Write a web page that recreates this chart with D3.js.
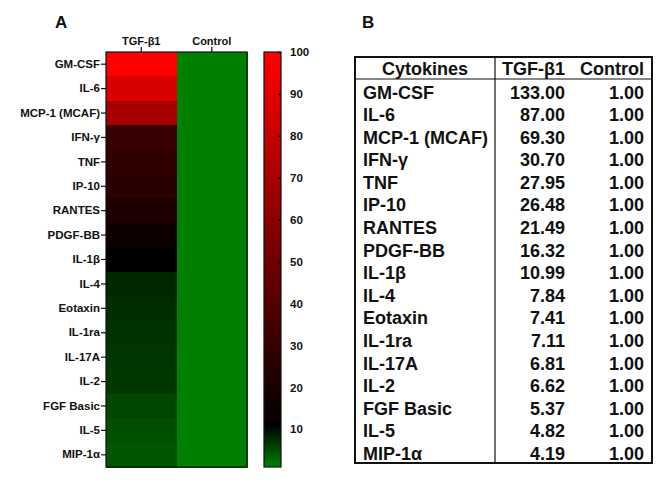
<!DOCTYPE html>
<html>
<head>
<meta charset="utf-8">
<script src="https://cdn.jsdelivr.net/npm/d3@7"></script>
<style>
  body { margin: 0; background: #fff; }
  text { font-family: "Liberation Sans", Arial, sans-serif; font-weight: bold; }
</style>
</head>
<body>
<svg id="fig" width="669" height="485"></svg>
<script>
// cytokine fold changes, TGF-b1 vs control
let cytokines = ["GM-CSF", "IL-6", "MCP-1 (MCAF)", "IFN-\u03b3", "TNF", "IP-10", "RANTES", "PDGF-BB",
    "IL-1\u03b2", "IL-4", "Eotaxin", "IL-1ra", "IL-17A", "IL-2", "FGF Basic", "IL-5", "MIP-1\u03b1"];
let tgfValues = [133.00, 87.00, 69.30, 30.70, 27.95, 26.48, 21.49, 16.32, 10.99, 7.84, 7.41, 7.11, 6.81, 6.62, 5.37, 4.82, 4.19];
let controlValues = [1, 1, 1, 1, 1, 1, 1, 1, 1, 1, 1, 1, 1, 1, 1, 1, 1];
let groups = ["TGF-\u03b21", "Control"];
let colorTicks = [10, 20, 30, 40, 50, 60, 70, 80, 90, 100];
let tableHeader = ["Cytokines", "TGF-\u03b21", "Control"];

let svg = d3.select("#fig");

// ---- panel A: heatmap ----
let heat = {left: 106, right: 247, top: 52, bottom: 467};

let xScale = d3.scaleBand().domain(groups).range([heat.left, heat.right]);
let yScale = d3.scaleBand().domain(cytokines).range([heat.top, heat.bottom]);

let colorScale = d3.scaleLinear()
    .domain([1, 11, 100])
    .range(["#008000", "#000000", "#ff0000"])
    .clamp(true);

let cells = [];
cytokines.forEach(function (c, i) {
    cells.push({name: c, group: groups[0], value: tgfValues[i]});
    cells.push({name: c, group: groups[1], value: controlValues[i]});
});

svg.append("g")
    .attr("shape-rendering", "crispEdges")
    .selectAll("rect")
    .data(cells)
    .enter()
    .append("rect")
    .attr("x", function (d) { return xScale(d.group); })
    .attr("y", function (d) { return yScale(d.name); })
    .attr("width", xScale.bandwidth() + 1)
    .attr("height", yScale.bandwidth() + 1)
    .attr("fill", function (d) { return colorScale(d.value); });

svg.append("rect")
    .attr("x", heat.left).attr("y", heat.top)
    .attr("width", heat.right - heat.left).attr("height", heat.bottom - heat.top)
    .attr("fill", "none").attr("stroke", "#111").attr("stroke-width", 1.2);

let yAxis = svg.append("g")
    .attr("transform", "translate(" + heat.left + ",0)")
    .call(d3.axisLeft(yScale).tickSize(5).tickPadding(1));
let xAxis = svg.append("g")
    .attr("transform", "translate(0," + heat.top + ")")
    .call(d3.axisTop(xScale).tickSize(5).tickPadding(2));

[yAxis, xAxis].forEach(function (a) {
    a.select(".domain").remove();
    a.selectAll("line").attr("stroke", "#111").attr("stroke-width", 1.2);
});
yAxis.selectAll("text").style("font-size", "11.5px").attr("fill", "#111");
xAxis.selectAll("text").style("font-size", "11px").attr("fill", "#111");

// color bar
let bar = {left: 264, right: 281, top: 52, bottom: 467};
let barScale = d3.scaleLinear().domain([1, 100]).range([bar.bottom, bar.top]);

let grad = svg.append("defs").append("linearGradient")
    .attr("id", "barGrad")
    .attr("x1", 0).attr("y1", 1).attr("x2", 0).attr("y2", 0);
d3.range(0, 1.0001, 0.05).forEach(function (t) {
    let v = 1 + t * 99;
    grad.append("stop").attr("offset", t).attr("stop-color", colorScale(v));
});

svg.append("rect")
    .attr("x", bar.left).attr("y", bar.top)
    .attr("width", bar.right - bar.left).attr("height", bar.bottom - bar.top)
    .attr("fill", "url(#barGrad)")
    .attr("stroke", "#111").attr("stroke-width", 1.2);

let barAxis = svg.append("g")
    .attr("transform", "translate(" + bar.right + ",0)")
    .call(d3.axisRight(barScale).tickValues(colorTicks).tickSize(-3).tickPadding(9));
barAxis.select(".domain").remove();
barAxis.selectAll("line").attr("stroke", "#111").attr("stroke-width", 1.5);
barAxis.selectAll("text").style("font-size", "11.5px").attr("fill", "#111");

svg.append("text").attr("x", 55).attr("y", 28)
    .style("font-size", "17px").attr("fill", "#111").text("A");

// ---- panel B: table ----
svg.append("text").attr("x", 362).attr("y", 28)
    .style("font-size", "17px").attr("fill", "#111").text("B");

let tab = {left: 355, right: 652, top: 57, head: 79, bottom: 463, divider: 495};
let rowScale = d3.scaleBand().domain(cytokines).range([tab.head, tab.bottom]);
let tableFont = "18px";

svg.append("rect")
    .attr("x", tab.left).attr("y", tab.top)
    .attr("width", tab.right - tab.left).attr("height", tab.bottom - tab.top)
    .attr("fill", "none").attr("stroke", "#111").attr("stroke-width", 2);
svg.append("line")
    .attr("x1", tab.left).attr("x2", tab.right).attr("y1", tab.head).attr("y2", tab.head)
    .attr("stroke", "#111").attr("stroke-width", 1.2);
svg.append("line")
    .attr("x1", tab.divider).attr("x2", tab.divider).attr("y1", tab.top).attr("y2", tab.bottom)
    .attr("stroke", "#111").attr("stroke-width", 1.2);

let headerX = [425, 565, 644];
let headerAnchor = ["middle", "end", "end"];
svg.append("g")
    .selectAll("text")
    .data(tableHeader)
    .enter()
    .append("text")
    .attr("x", function (d, i) { return headerX[i]; })
    .attr("y", 74.5)
    .attr("text-anchor", function (d, i) { return headerAnchor[i]; })
    .style("font-size", tableFont)
    .attr("fill", "#111")
    .text(function (d) { return d; });

let rows = svg.append("g")
    .selectAll("g")
    .data(cytokines)
    .enter()
    .append("g")
    .attr("transform", function (d) { return "translate(0," + (rowScale(d) + 19.5) + ")"; });

rows.append("text")
    .attr("x", 363)
    .style("font-size", tableFont).attr("fill", "#111")
    .text(function (d) { return d; });
rows.append("text")
    .attr("x", 565).attr("text-anchor", "end")
    .style("font-size", tableFont).attr("fill", "#111")
    .text(function (d, i) { return tgfValues[i].toFixed(2); });
rows.append("text")
    .attr("x", 644).attr("text-anchor", "end")
    .style("font-size", tableFont).attr("fill", "#111")
    .text(function (d, i) { return controlValues[i].toFixed(2); });
</script>
</body>
</html>
